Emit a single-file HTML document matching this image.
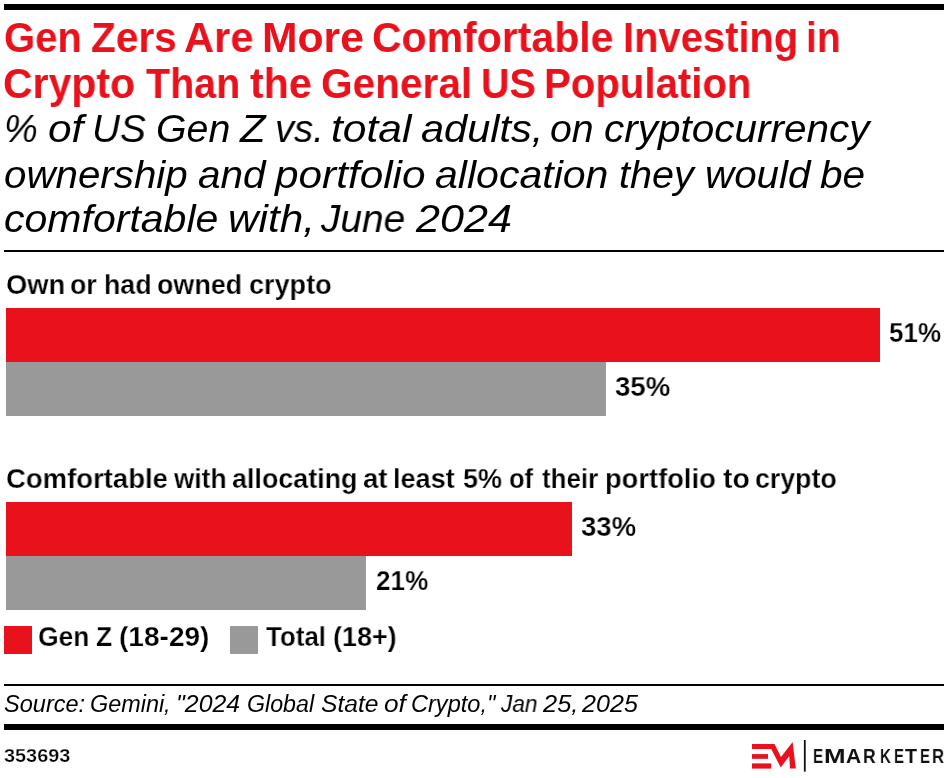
<!DOCTYPE html>
<html><head><meta charset="utf-8">
<style>
html,body{margin:0;padding:0;background:#fff;}
body{width:948px;height:778px;position:relative;overflow:hidden;font-family:"Liberation Sans",sans-serif;color:#000;}
.ln{position:absolute;left:0;width:948px;white-space:nowrap;}
.a{position:absolute;top:0;white-space:nowrap;transform-origin:0 0;will-change:transform;}
.r{position:absolute;}
</style></head><body>
<div class="r" style="left:4px;top:4px;width:940px;height:6px;background:#000"></div>
<div class="r" style="left:4px;top:250px;width:940px;height:2px;background:#000"></div>
<div class="r" style="left:6px;top:308px;width:874px;height:54px;background:#E8111C"></div>
<div class="r" style="left:6px;top:362px;width:600px;height:54px;background:#999"></div>
<div class="r" style="left:6px;top:502px;width:566px;height:54px;background:#E8111C"></div>
<div class="r" style="left:6px;top:556px;width:360px;height:54px;background:#999"></div>
<div class="r" style="left:4px;top:626px;width:28px;height:28px;background:#E8111C"></div>
<div class="r" style="left:230px;top:626px;width:28px;height:28px;background:#999"></div>
<div class="r" style="left:4px;top:684px;width:940px;height:2px;background:#000"></div>
<div class="r" style="left:4px;top:724px;width:940px;height:6px;background:#000"></div>
<div class="ln" style="top:17px;font-size:42px;line-height:42px;color:#E8111C;font-weight:bold;"><span class="a" style="left:3.99px;transform:scaleX(0.9532)">Gen</span><span class="a" style="left:91.03px;transform:scaleX(0.9674)">Zers</span><span class="a" style="left:184.31px;transform:scaleX(0.9926)">Are</span><span class="a" style="left:262.45px;transform:scaleX(1.0156)">More</span><span class="a" style="left:372.35px;transform:scaleX(0.9762)">Comfortable</span><span class="a" style="left:623.15px;transform:scaleX(0.9503)">Investing</span><span class="a" style="left:806.22px;transform:scaleX(0.9281)">in</span></div>
<div class="ln" style="top:63px;font-size:42px;line-height:42px;color:#E8111C;font-weight:bold;"><span class="a" style="left:3.45px;transform:scaleX(0.9758)">Crypto</span><span class="a" style="left:146.00px;transform:scaleX(0.9388)">Than</span><span class="a" style="left:249.50px;transform:scaleX(0.9790)">the</span><span class="a" style="left:320.57px;transform:scaleX(0.9664)">General</span><span class="a" style="left:480.82px;transform:scaleX(0.9418)">US</span><span class="a" style="left:543.93px;transform:scaleX(0.9561)">Population</span></div>
<div class="ln" style="top:109px;font-size:39px;line-height:39px;color:#000;font-style:italic;"><span class="a" style="left:4.18px;transform:scaleX(0.9733)">%</span><span class="a" style="left:47.81px;transform:scaleX(1.0857)">of</span><span class="a" style="left:92.42px;transform:scaleX(0.9922)">US</span><span class="a" style="left:155.78px;transform:scaleX(1.0086)">Gen</span><span class="a" style="left:240.37px;transform:scaleX(1.0731)">Z</span><span class="a" style="left:274.54px;transform:scaleX(0.9791)">vs.</span><span class="a" style="left:331.02px;transform:scaleX(1.0904)">total</span><span class="a" style="left:421.03px;transform:scaleX(1.0651)">adults,</span><span class="a" style="left:549.89px;transform:scaleX(1.0073)">on</span><span class="a" style="left:603.86px;transform:scaleX(1.0377)">cryptocurrency</span></div>
<div class="ln" style="top:155px;font-size:39px;line-height:39px;color:#000;font-style:italic;"><span class="a" style="left:4.07px;transform:scaleX(1.0335)">ownership</span><span class="a" style="left:197.76px;transform:scaleX(1.0385)">and</span><span class="a" style="left:275.48px;transform:scaleX(1.0849)">portfolio</span><span class="a" style="left:434.85px;transform:scaleX(1.0525)">allocation</span><span class="a" style="left:618.77px;transform:scaleX(1.0149)">they</span><span class="a" style="left:704.53px;transform:scaleX(1.0347)">would</span><span class="a" style="left:819.60px;transform:scaleX(1.0405)">be</span></div>
<div class="ln" style="top:199px;font-size:39px;line-height:39px;color:#000;font-style:italic;"><span class="a" style="left:4.45px;transform:scaleX(1.0520)">comfortable</span><span class="a" style="left:228.43px;transform:scaleX(1.0838)">with,</span><span class="a" style="left:321.10px;transform:scaleX(0.9940)">June</span><span class="a" style="left:415.60px;transform:scaleX(1.1059)">2024</span></div>
<div class="ln" style="top:271px;font-size:28px;line-height:28px;color:#000;font-weight:bold;-webkit-text-stroke:0.25px #fff;"><span class="a" style="left:5.62px;transform:scaleX(0.9776)">Own</span><span class="a" style="left:69.94px;transform:scaleX(0.9593)">or</span><span class="a" style="left:104.09px;transform:scaleX(0.9565)">had</span><span class="a" style="left:157.44px;transform:scaleX(0.9605)">owned</span><span class="a" style="left:248.73px;transform:scaleX(0.9655)">crypto</span></div>
<div class="ln" style="top:465px;font-size:28px;line-height:28px;color:#000;font-weight:bold;-webkit-text-stroke:0.25px #fff;"><span class="a" style="left:5.77px;transform:scaleX(0.9819)">Comfortable</span><span class="a" style="left:173.50px;transform:scaleX(0.9364)">with</span><span class="a" style="left:232.44px;transform:scaleX(0.9602)">allocating</span><span class="a" style="left:362.92px;transform:scaleX(0.9833)">at</span><span class="a" style="left:393.17px;transform:scaleX(0.9661)">least</span><span class="a" style="left:462.54px;transform:scaleX(0.9641)">5%</span><span class="a" style="left:508.59px;transform:scaleX(0.9115)">of</span><span class="a" style="left:541.60px;transform:scaleX(0.9262)">their</span><span class="a" style="left:604.65px;transform:scaleX(0.9757)">portfolio</span><span class="a" style="left:723.30px;transform:scaleX(1.0154)">to</span><span class="a" style="left:755.05px;transform:scaleX(0.9548)">crypto</span></div>
<div class="ln" style="top:319px;font-size:28px;line-height:28px;color:#000;font-weight:bold;-webkit-text-stroke:0.25px #fff;"><span class="a" style="left:889.07px;transform:scaleX(0.9273)">51%</span></div>
<div class="ln" style="top:373px;font-size:28px;line-height:28px;color:#000;font-weight:bold;-webkit-text-stroke:0.25px #fff;"><span class="a" style="left:615.02px;transform:scaleX(0.9836)">35%</span></div>
<div class="ln" style="top:513px;font-size:28px;line-height:28px;color:#000;font-weight:bold;-webkit-text-stroke:0.25px #fff;"><span class="a" style="left:581.02px;transform:scaleX(0.9818)">33%</span></div>
<div class="ln" style="top:567px;font-size:28px;line-height:28px;color:#000;font-weight:bold;-webkit-text-stroke:0.25px #fff;"><span class="a" style="left:375.87px;transform:scaleX(0.9309)">21%</span></div>
<div class="ln" style="top:623px;font-size:28px;line-height:28px;color:#000;font-weight:bold;-webkit-text-stroke:0.25px #fff;"><span class="a" style="left:38.06px;transform:scaleX(0.9442)">Gen</span><span class="a" style="left:96.16px;transform:scaleX(0.9438)">Z</span><span class="a" style="left:119.20px;transform:scaleX(1.0023)">(18-29)</span></div>
<div class="ln" style="top:623px;font-size:28px;line-height:28px;color:#000;font-weight:bold;-webkit-text-stroke:0.25px #fff;"><span class="a" style="left:266.00px;transform:scaleX(0.9254)">Total</span><span class="a" style="left:332.54px;transform:scaleX(0.9625)">(18+)</span></div>
<div class="ln" style="top:693px;font-size:23px;line-height:23px;color:#000;font-style:italic;"><span class="a" style="left:3.68px;transform:scaleX(1.0234)">Source:</span><span class="a" style="left:90.08px;transform:scaleX(1.0171)">Gemini,</span><span class="a" style="left:175.54px;transform:scaleX(1.0807)">&quot;2024</span><span class="a" style="left:246.79px;transform:scaleX(1.0091)">Global</span><span class="a" style="left:321.43px;transform:scaleX(1.0712)">State</span><span class="a" style="left:383.86px;transform:scaleX(1.1400)">of</span><span class="a" style="left:410.98px;transform:scaleX(1.0244)">Crypto,&quot;</span><span class="a" style="left:501.10px;transform:scaleX(0.9833)">Jan</span><span class="a" style="left:543.30px;transform:scaleX(1.1069)">25,</span><span class="a" style="left:582.10px;transform:scaleX(1.0922)">2025</span></div>
<div class="ln" style="top:746px;font-size:19px;line-height:19px;color:#000;font-weight:bold;-webkit-text-stroke:0.25px #fff;"><span class="a" style="left:4.40px;transform:scaleX(1.0460)">353693</span></div>
<svg class="r" style="left:740px;top:735px" width="70" height="40" viewBox="740 735 70 40"><polygon fill="#E8111C" points="752,744 774.5,744 781,757 792.6,742 795.8,768.6 790,768.6 789.2,756 780.8,767.5 771.2,748.9 752,748.9"/><rect fill="#E8111C" x="752" y="754.1" width="16" height="4.7"/><rect fill="#E8111C" x="752" y="763.4" width="19.2" height="5.2"/><rect fill="#111" x="803.9" y="740" width="1.8" height="31.6"/></svg>
<div class="ln" style="top:746.5px;font-weight:bold;font-size:19.4px;line-height:19.4px;color:#111"><span class="a" style="left:812.69px;transform:scaleX(0.781)">E</span><span class="a" style="left:824.17px;transform:scaleX(1.334)">M</span><span class="a" style="left:846.38px;transform:scaleX(1.083)">A</span><span class="a" style="left:863.03px;transform:scaleX(0.901)">R</span><span class="a" style="left:879.90px;transform:scaleX(0.774)">K</span><span class="a" style="left:893.80px;transform:scaleX(0.772)">E</span><span class="a" style="left:905.28px;transform:scaleX(1.015)">T</span><span class="a" style="left:919.80px;transform:scaleX(0.772)">E</span><span class="a" style="left:932.28px;transform:scaleX(0.861)">R</span></div>
</body></html>
